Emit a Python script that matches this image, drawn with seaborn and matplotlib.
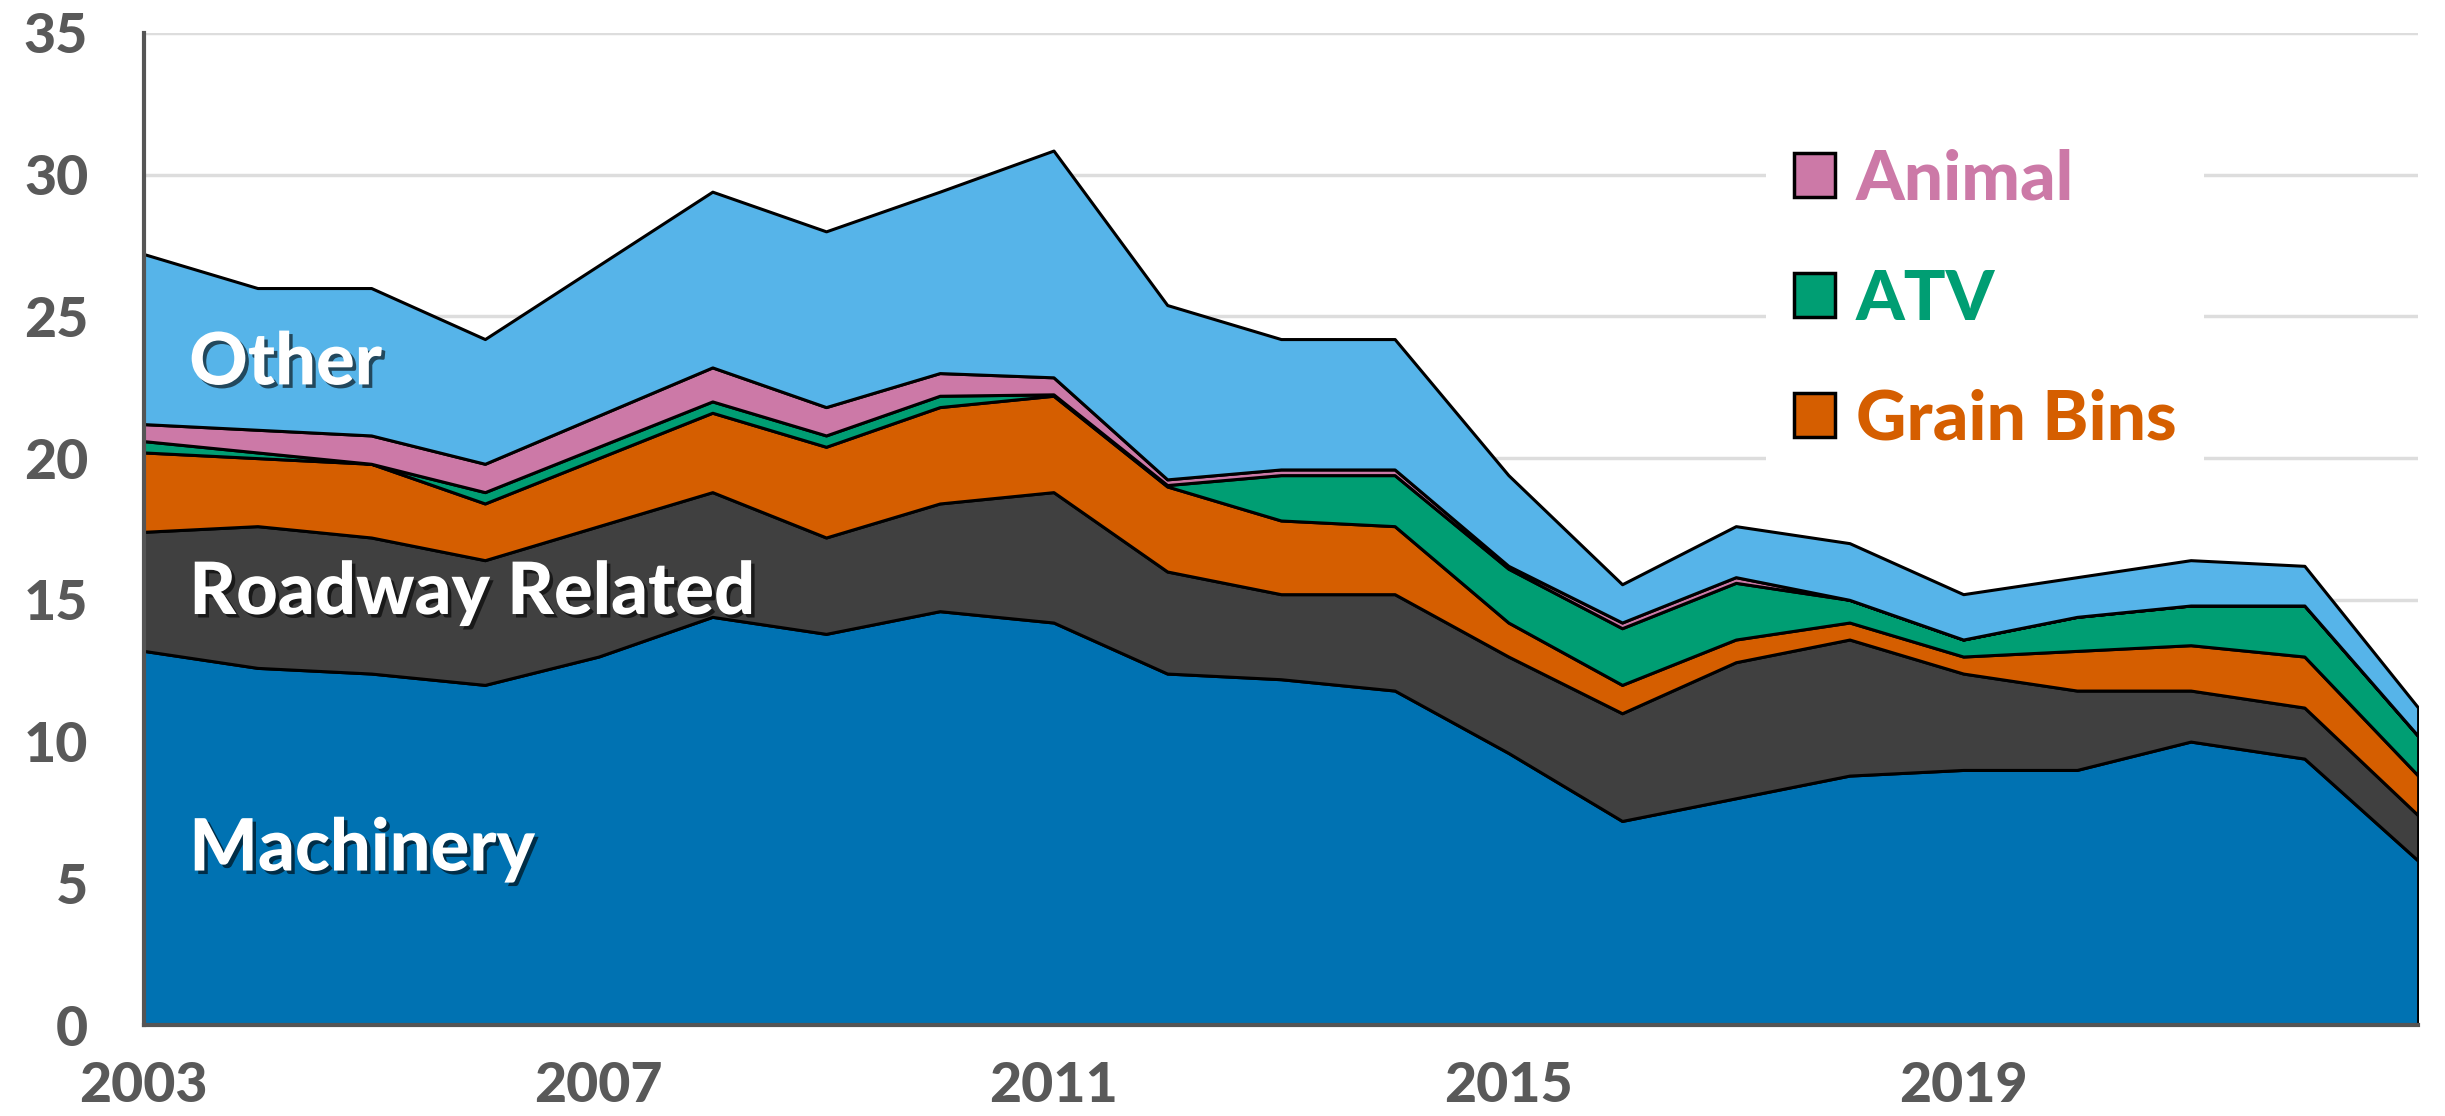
# import required libraries
import matplotlib
matplotlib.use("Agg")
import matplotlib.pyplot as plt
import matplotlib.patheffects as pe
from matplotlib.patches import Patch
import seaborn as sns

# data
years = list(range(2003, 2024))
machinery = [13.2, 12.6, 12.4, 12.0, 13.0, 14.4, 13.8, 14.6, 14.2, 12.4, 12.2,
             11.8, 9.6, 7.2, 8.0, 8.8, 9.0, 9.0, 10.0, 9.4, 5.8]
roadway = [4.2, 5.0, 4.8, 4.4, 4.6, 4.4, 3.4, 3.8, 4.6, 3.6, 3.0,
           3.4, 3.4, 3.8, 4.8, 4.8, 3.4, 2.8, 1.8, 1.8, 1.6]
grain_bins = [2.8, 2.4, 2.6, 2.0, 2.4, 2.8, 3.2, 3.4, 3.4, 3.0, 2.6,
              2.4, 1.2, 1.0, 0.8, 0.6, 0.6, 1.4, 1.6, 1.8, 1.4]
atv = [0.4, 0.2, 0.0, 0.4, 0.4, 0.4, 0.4, 0.4, 0.05, 0.05, 1.6,
       1.8, 1.9, 2.0, 2.0, 0.8, 0.6, 1.2, 1.4, 1.8, 1.4]
animal = [0.6, 0.8, 1.0, 1.0, 1.1, 1.2, 1.0, 0.8, 0.6, 0.2, 0.2,
          0.2, 0.1, 0.2, 0.2, 0.0, 0.0, 0.0, 0.0, 0.0, 0.0]
other = [6.0, 5.0, 5.2, 4.4, 5.3, 6.2, 6.2, 6.4, 8.0, 6.15, 4.6,
         4.6, 3.2, 1.35, 1.8, 2.0, 1.6, 1.4, 1.6, 1.4, 1.0]

series_names = ["Machinery", "Roadway Related", "Grain Bins", "ATV", "Animal", "Other"]
colors = ["#0072B2", "#404040", "#D55E00", "#009E73", "#CC79A7", "#56B4E9"]
label_years = [2003, 2007, 2011, 2015, 2019]

# set the style
sns.set_theme(style="white")
plt.rcParams['font.family'] = ['Lato', 'DejaVu Sans']
plt.rcParams['font.weight'] = 'black'

# create a figure and axes
fig, ax = plt.subplots(figsize=(24.45, 11.16), dpi=100)
fig.subplots_adjust(left=0.0588, right=0.989, bottom=0.0815, top=0.9705)

# plot the stacked areas
ax.stackplot(years, machinery, roadway, grain_bins, atv, animal, other,
             colors=colors, edgecolor="black", linewidth=2.2, zorder=2)

# axes limits and ticks
ax.set_xlim(2003, 2023)
ax.set_ylim(0, 35)
ax.set_yticks(range(0, 36, 5))
ax.set_xticks(years)
ax.set_xticklabels([str(y) if y in label_years else "" for y in years])
ax.tick_params(axis="both", colors="#555555", labelcolor="#595959",
               labelsize=40, length=14, width=2.5, direction="out")
ax.tick_params(axis="y", pad=26)
ax.tick_params(axis="x", pad=12)
for lab in ax.get_xticklabels() + ax.get_yticklabels():
    lab.set_fontweight("black")

# grid and spines
ax.yaxis.grid(True, color="#dddddd", linewidth=2.5)
ax.set_axisbelow(True)
for side in ["top", "right"]:
    ax.spines[side].set_visible(False)
for side in ["left", "bottom"]:
    ax.spines[side].set_color("#555555")
    ax.spines[side].set_linewidth(3)
    ax.spines[side].set_zorder(3)

# labels written on the areas
shadow = [pe.withSimplePatchShadow(offset=(2.5, -2.5), shadow_rgbFace="black", alpha=0.6)]
for text, yv in [("Other", 22.6), ("Roadway Related", 14.5), ("Machinery", 5.45)]:
    ax.text(2003.40, yv, text, color="white", fontsize=52, fontweight="black",
            va="baseline", ha="left", path_effects=shadow, zorder=4)

# legend for the thin series
handles = [Patch(facecolor=colors[i], edgecolor="black", linewidth=2.5)
           for i in [4, 3, 2]]
leg = ax.legend(handles, ["Animal", "ATV", "Grain Bins"],
                loc="center left", bbox_to_anchor=(0.708, 0.731),
                bbox_transform=fig.transFigure, fontsize=50,
                labelcolor=[colors[4], colors[3], colors[2]],
                handlelength=0.6, handleheight=0.6, handletextpad=0.3,
                labelspacing=0.82, borderpad=0.4, frameon=True,
                facecolor="white", edgecolor="none", framealpha=1)
for t in leg.get_texts():
    t.set_fontweight("black")

# save it
plt.savefig("out.png", dpi=100)
plt.close(fig)
